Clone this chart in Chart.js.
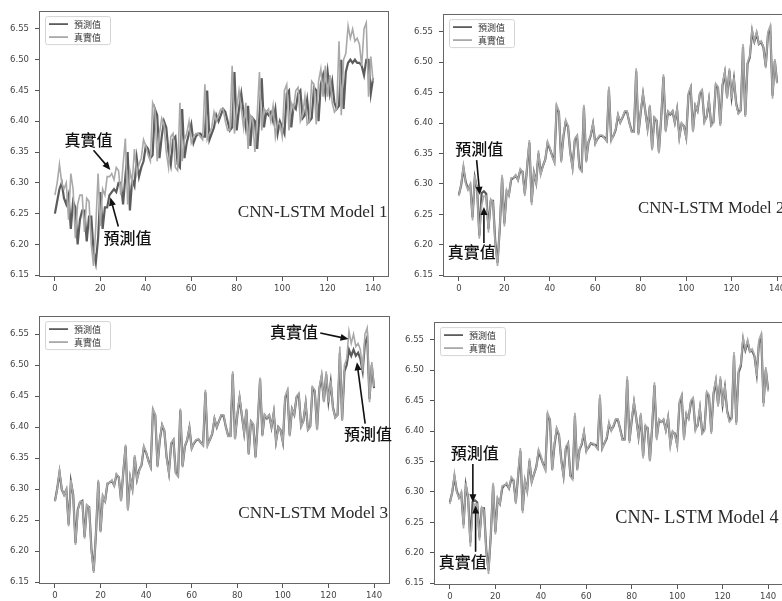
<!DOCTYPE html>
<html>
<head>
<meta charset="utf-8">
<script src="https://cdn.jsdelivr.net/npm/chart.js@4"></script>
<style>
  html, body { margin: 0; padding: 0; background: #fff; width: 782px; height: 601px; overflow: hidden; position: relative; }
  .panel { position: absolute; }
</style>
</head>
<body>
<div class="panel" id="p1"><canvas id="c1"></canvas></div>
<div class="panel" id="p2"><canvas id="c2"></canvas></div>
<div class="panel" id="p3"><canvas id="c3"></canvas></div>
<div class="panel" id="p4"><canvas id="c4"></canvas></div>
<script>
// tick labels
const xTickValues = [0, 20, 40, 60, 80, 100, 120, 140];
const yTickValues = [6.15, 6.20, 6.25, 6.30, 6.35, 6.40, 6.45, 6.50, 6.55];
const seriesLabels = ['預測值', '真實值'];

// 真實值 (same test set in every panel)
const actual = [
  6.28, 6.30, 6.33, 6.30, 6.29, 6.30, 6.24, 6.315, 6.29, 6.21,
  6.265, 6.28, 6.28, 6.22, 6.275, 6.27, 6.20, 6.165, 6.23, 6.315,
  6.23, 6.29, 6.28, 6.31, 6.31, 6.315, 6.305, 6.325, 6.32, 6.28,
  6.33, 6.372, 6.265, 6.32, 6.30, 6.355, 6.315, 6.33, 6.34, 6.37,
  6.36, 6.345, 6.335, 6.43, 6.42, 6.335, 6.38, 6.405, 6.395, 6.35,
  6.325, 6.375, 6.38, 6.325, 6.32, 6.43, 6.335, 6.37, 6.38, 6.40,
  6.365, 6.375, 6.38, 6.38, 6.375, 6.37, 6.46, 6.37, 6.38, 6.39,
  6.415, 6.40, 6.41, 6.42, 6.42, 6.40, 6.385, 6.385, 6.49, 6.38,
  6.42, 6.45, 6.42, 6.39, 6.43, 6.355, 6.41, 6.405, 6.35, 6.41,
  6.48, 6.385, 6.42, 6.415, 6.42, 6.40, 6.425, 6.375, 6.40, 6.395,
  6.375, 6.45, 6.46, 6.385, 6.43, 6.42, 6.45, 6.455, 6.40, 6.41,
  6.44, 6.395, 6.40, 6.465, 6.46, 6.395, 6.465, 6.485, 6.44, 6.49,
  6.44, 6.475, 6.43, 6.415, 6.42, 6.53, 6.41, 6.50, 6.51, 6.555,
  6.535, 6.55, 6.53, 6.535, 6.525, 6.49, 6.55, 6.56, 6.44, 6.505,
  6.465
];

// 預測值, Model 1
const pred1 = [
  6.25, 6.27, 6.29, 6.30, 6.275, 6.265, 6.28, 6.225, 6.27, 6.26,
  6.20, 6.24, 6.255, 6.255, 6.205, 6.245, 6.245, 6.19, 6.17, 6.21,
  6.285, 6.225, 6.26, 6.26, 6.28, 6.285, 6.29, 6.285, 6.30, 6.30,
  6.265, 6.31, 6.35, 6.255, 6.305, 6.295, 6.34, 6.31, 6.325, 6.335,
  6.36, 6.355, 6.34, 6.345, 6.42, 6.41, 6.34, 6.375, 6.40, 6.39,
  6.35, 6.33, 6.37, 6.375, 6.33, 6.325, 6.42, 6.34, 6.365, 6.38,
  6.395, 6.365, 6.375, 6.38, 6.38, 6.375, 6.375, 6.45, 6.37, 6.38,
  6.39, 6.41, 6.40, 6.41, 6.42, 6.415, 6.40, 6.385, 6.39, 6.48,
  6.385, 6.42, 6.445, 6.415, 6.39, 6.425, 6.36, 6.405, 6.40, 6.355,
  6.41, 6.47, 6.39, 6.415, 6.41, 6.415, 6.40, 6.42, 6.38, 6.40,
  6.39, 6.38, 6.445, 6.45, 6.39, 6.425, 6.42, 6.445, 6.45, 6.405,
  6.41, 6.435, 6.40, 6.405, 6.455, 6.45, 6.40, 6.46, 6.475, 6.445,
  6.48, 6.445, 6.465, 6.43, 6.42, 6.425, 6.50, 6.42, 6.48, 6.495,
  6.50, 6.495, 6.50, 6.495, 6.495, 6.49, 6.475, 6.50, 6.50, 6.445,
  6.47
];

// 預測值, Model 2
const pred2 = [
  6.282, 6.298, 6.326, 6.303, 6.292, 6.298, 6.245, 6.31, 6.292, 6.215,
  6.285, 6.288, 6.284, 6.226, 6.272, 6.272, 6.205, 6.17, 6.228, 6.31,
  6.235, 6.287, 6.282, 6.307, 6.31, 6.313, 6.307, 6.322, 6.32, 6.284,
  6.327, 6.368, 6.27, 6.318, 6.302, 6.35, 6.318, 6.33, 6.34, 6.366,
  6.358, 6.347, 6.337, 6.426, 6.418, 6.338, 6.378, 6.402, 6.394, 6.352,
  6.328, 6.372, 6.378, 6.328, 6.323, 6.426, 6.338, 6.368, 6.379, 6.398,
  6.367, 6.374, 6.379, 6.379, 6.376, 6.371, 6.455, 6.373, 6.379, 6.389,
  6.412, 6.401, 6.409, 6.418, 6.418, 6.401, 6.387, 6.386, 6.485, 6.383,
  6.418, 6.447, 6.42, 6.392, 6.427, 6.358, 6.408, 6.404, 6.353, 6.408,
  6.476, 6.388, 6.418, 6.414, 6.419, 6.401, 6.422, 6.378, 6.399, 6.395,
  6.377, 6.446, 6.457, 6.388, 6.428, 6.42, 6.447, 6.452, 6.403, 6.41,
  6.437, 6.397, 6.402, 6.461, 6.458, 6.398, 6.462, 6.482, 6.443, 6.486,
  6.443, 6.472, 6.432, 6.417, 6.421, 6.525, 6.413, 6.497, 6.508, 6.55,
  6.534, 6.547, 6.53, 6.533, 6.524, 6.493, 6.546, 6.555, 6.445, 6.502,
  6.467
];

// 預測值, Model 3
const pred3 = [
  6.281, 6.301, 6.327, 6.299, 6.291, 6.299, 6.243, 6.312, 6.291, 6.213,
  6.267, 6.279, 6.281, 6.223, 6.273, 6.271, 6.203, 6.168, 6.229, 6.312,
  6.232, 6.288, 6.281, 6.308, 6.311, 6.313, 6.306, 6.323, 6.319, 6.282,
  6.328, 6.369, 6.268, 6.318, 6.301, 6.352, 6.316, 6.331, 6.339, 6.367,
  6.359, 6.346, 6.336, 6.427, 6.419, 6.337, 6.379, 6.403, 6.394, 6.351,
  6.327, 6.373, 6.379, 6.327, 6.322, 6.427, 6.337, 6.369, 6.379, 6.399,
  6.366, 6.374, 6.379, 6.38, 6.375, 6.371, 6.456, 6.372, 6.38, 6.389,
  6.413, 6.40, 6.41, 6.419, 6.418, 6.40, 6.386, 6.386, 6.486, 6.382,
  6.419, 6.447, 6.419, 6.391, 6.428, 6.357, 6.409, 6.404, 6.352, 6.409,
  6.477, 6.387, 6.419, 6.414, 6.419, 6.40, 6.423, 6.377, 6.40, 6.395,
  6.376, 6.447, 6.457, 6.387, 6.429, 6.42, 6.448, 6.452, 6.402, 6.41,
  6.438, 6.396, 6.401, 6.462, 6.458, 6.397, 6.462, 6.481, 6.442, 6.485,
  6.442, 6.472, 6.431, 6.416, 6.42, 6.52, 6.412, 6.49, 6.50, 6.525,
  6.515, 6.525, 6.515, 6.52, 6.51, 6.49, 6.535, 6.545, 6.445, 6.50,
  6.463
];

// 預測值, Model 4
const pred4 = [
  6.283, 6.299, 6.325, 6.302, 6.291, 6.297, 6.246, 6.311, 6.291, 6.217,
  6.284, 6.286, 6.283, 6.225, 6.273, 6.273, 6.204, 6.171, 6.229, 6.311,
  6.234, 6.288, 6.281, 6.306, 6.311, 6.312, 6.306, 6.321, 6.319, 6.283,
  6.326, 6.367, 6.269, 6.317, 6.303, 6.351, 6.317, 6.329, 6.341, 6.365,
  6.357, 6.346, 6.338, 6.425, 6.419, 6.337, 6.377, 6.403, 6.393, 6.353,
  6.327, 6.371, 6.379, 6.327, 6.324, 6.425, 6.337, 6.369, 6.378, 6.397,
  6.368, 6.373, 6.38, 6.378, 6.377, 6.372, 6.454, 6.372, 6.38, 6.388,
  6.411, 6.402, 6.408, 6.419, 6.417, 6.402, 6.386, 6.387, 6.484, 6.384,
  6.417, 6.446, 6.421, 6.391, 6.426, 6.359, 6.407, 6.405, 6.352, 6.407,
  6.475, 6.389, 6.417, 6.415, 6.418, 6.402, 6.421, 6.379, 6.398, 6.396,
  6.378, 6.445, 6.456, 6.389, 6.427, 6.421, 6.446, 6.451, 6.404, 6.409,
  6.436, 6.398, 6.403, 6.46, 6.457, 6.399, 6.461, 6.481, 6.444, 6.485,
  6.444, 6.471, 6.433, 6.418, 6.422, 6.524, 6.414, 6.496, 6.507, 6.549,
  6.533, 6.546, 6.531, 6.532, 6.523, 6.494, 6.545, 6.554, 6.446, 6.501,
  6.468
];

const PRED_COLOR = '#5c5c5c';
const TRUE_COLOR = '#a9a9a9';
const CJK = '"Noto Sans CJK TC", "Noto Sans CJK SC", sans-serif';

// page-pixel box of each axes, annotations in data coords
const panels = [
  { canvas: 'c1', box: 'p1', area: { left: 39, top: 10, right: 389, bottom: 277 }, pred: pred1,
    model: { text: 'CNN-LSTM Model 1', x: 146.4, y: 6.251, align: 'right', size: 17.2 },
    notes: [
      { text: '真實值', x: 14.8, y: 6.370, from: [17.0, 6.353], to: [24.4, 6.321] },
      { text: '預測值', x: 31.9, y: 6.210, from: [27.9, 6.229], to: [24.4, 6.276] }
    ] },
  { canvas: 'c2', box: 'p2', area: { left: 443, top: 13, right: 793, bottom: 277 }, pred: pred2,
    model: { text: 'CNN-LSTM Model 2', x: 78.8, y: 6.259, align: 'left', size: 16.8 },
    notes: [
      { text: '預測值', x: 8.9, y: 6.357, from: [7.8, 6.339], to: [9.2, 6.282] },
      { text: '真實值', x: 5.7, y: 6.188, from: [11.0, 6.203], to: [11.0, 6.262] }
    ] },
  { canvas: 'c3', box: 'p3', area: { left: 39, top: 315, right: 390, bottom: 584 }, pred: pred3,
    model: { text: 'CNN-LSTM Model 3', x: 146.2, y: 6.26, align: 'right', size: 17.2 },
    notes: [
      { text: '真實值', x: 104.9, y: 6.554, from: [116.4, 6.5516], to: [128.8, 6.542] },
      { text: '預測值', x: 137.4, y: 6.3885, from: [136.1, 6.4057], to: [132.5, 6.5045] }
    ] },
  { canvas: 'c4', box: 'p4', area: { left: 434, top: 321, right: 784, bottom: 585 }, pred: pred4,
    model: { text: 'CNN- LSTM Model 4', x: 72.8, y: 6.256, align: 'left', size: 18.2 },
    notes: [
      { text: '預測值', x: 10.9, y: 6.3636, from: [10.1, 6.346], to: [10.1, 6.283] },
      { text: '真實值', x: 5.6, y: 6.1856, from: [11.3, 6.2016], to: [11.3, 6.2778] }
    ] }
];

function drawArrow(ctx, x0, y0, x1, y1) {
  const a = Math.atan2(y1 - y0, x1 - x0), hl = 8, hw = 3.5;
  ctx.beginPath();
  ctx.moveTo(x0, y0);
  ctx.lineTo(x1 - Math.cos(a) * hl * 0.7, y1 - Math.sin(a) * hl * 0.7);
  ctx.stroke();
  ctx.beginPath();
  ctx.moveTo(x1, y1);
  ctx.lineTo(x1 - hl * Math.cos(a) + hw * Math.sin(a), y1 - hl * Math.sin(a) - hw * Math.cos(a));
  ctx.lineTo(x1 - hl * Math.cos(a) - hw * Math.sin(a), y1 - hl * Math.sin(a) + hw * Math.cos(a));
  ctx.closePath();
  ctx.fill();
}

function makeDecor(p) {
  return {
    id: 'decor',
    afterDraw(chart) {
      const { ctx, chartArea: a, scales: { x, y } } = chart;
      ctx.save();
      // axes frame
      ctx.strokeStyle = '#666';
      ctx.lineWidth = 1;
      ctx.strokeRect(Math.round(a.left) + 0.5, Math.round(a.top) + 0.5,
                     Math.round(a.right - a.left) - 1, Math.round(a.bottom - a.top) - 1);

      // legend, upper left
      const lx = a.left + 6, ly = a.top + 5;
      ctx.fillStyle = 'rgba(255,255,255,0.9)';
      ctx.strokeStyle = '#d4d4d4';
      ctx.beginPath();
      ctx.roundRect(lx + 0.5, ly + 0.5, 65, 28, 2);
      ctx.fill();
      ctx.stroke();
      [PRED_COLOR, TRUE_COLOR].forEach((c, i) => {
        const ry = ly + 8 + i * 13;
        ctx.strokeStyle = c;
        ctx.lineWidth = 1.8;
        ctx.beginPath();
        ctx.moveTo(lx + 4, ry);
        ctx.lineTo(lx + 23, ry);
        ctx.stroke();
        ctx.fillStyle = '#333';
        ctx.font = '9px ' + CJK;
        ctx.textAlign = 'left';
        ctx.textBaseline = 'middle';
        ctx.fillText(seriesLabels[i], lx + 29, ry);
      });

      // model caption
      ctx.fillStyle = '#2a2a2a';
      ctx.font = p.model.size + 'px "Liberation Serif", "Times New Roman", serif';
      ctx.textAlign = p.model.align;
      ctx.textBaseline = 'middle';
      ctx.fillText(p.model.text, x.getPixelForValue(p.model.x), y.getPixelForValue(p.model.y));

      // arrows and labels
      ctx.fillStyle = '#111';
      ctx.strokeStyle = '#111';
      ctx.lineWidth = 1.6;
      p.notes.forEach(n => {
        drawArrow(ctx, x.getPixelForValue(n.from[0]), y.getPixelForValue(n.from[1]),
                       x.getPixelForValue(n.to[0]), y.getPixelForValue(n.to[1]));
        ctx.font = '500 16px ' + CJK;
        ctx.textAlign = 'center';
        ctx.textBaseline = 'middle';
        ctx.fillText(n.text, x.getPixelForValue(n.x), y.getPixelForValue(n.y));
      });
      ctx.restore();
    }
  };
}

panels.forEach(p => {
  const box = document.getElementById(p.box);
  box.style.left = (p.area.left - 40) + 'px';
  box.style.top = (p.area.top - 10) + 'px';
  box.style.width = (p.area.right - p.area.left + 46) + 'px';
  box.style.height = (p.area.bottom - p.area.top + 34) + 'px';

  new Chart(document.getElementById(p.canvas), {
    type: 'line',
    data: {
      datasets: [
        { label: seriesLabels[0], data: p.pred.map((v, i) => ({ x: i, y: v })),
          borderColor: PRED_COLOR, borderWidth: 2.2, order: 2 },
        { label: seriesLabels[1], data: actual.map((v, i) => ({ x: i, y: v })),
          borderColor: TRUE_COLOR, borderWidth: 1.6, order: 1 }
      ]
    },
    options: {
      responsive: true,
      maintainAspectRatio: false,
      animation: false,
      layout: { padding: { left: 0, top: 10, right: 6, bottom: 2 } },
      elements: { point: { radius: 0 }, line: { tension: 0, fill: false } },
      plugins: { legend: { display: false }, tooltip: { enabled: false } },
      scales: {
        x: {
          type: 'linear', min: -7, max: 147,
          afterBuildTicks: s => { s.ticks = xTickValues.map(v => ({ value: v })); },
          afterFit: s => { s.height = 22; },
          ticks: { color: '#444', font: { family: 'DejaVu Sans', size: 8.5 }, padding: 3,
                   maxRotation: 0, autoSkip: false, callback: v => String(v) },
          grid: { drawOnChartArea: false, drawTicks: true, tickLength: 4, color: '#555' },
          border: { display: false }
        },
        y: {
          type: 'linear', min: 6.147, max: 6.579,
          afterBuildTicks: s => { s.ticks = yTickValues.map(v => ({ value: v })); },
          afterFit: s => { s.width = 40; },
          ticks: { color: '#444', font: { family: 'DejaVu Sans', size: 8.5 }, padding: 6,
                   autoSkip: false, callback: v => Number(v).toFixed(2) },
          grid: { drawOnChartArea: false, drawTicks: true, tickLength: 4, color: '#555' },
          border: { display: false }
        }
      }
    },
    plugins: [makeDecor(p)]
  });
});
</script>
</body>
</html>
